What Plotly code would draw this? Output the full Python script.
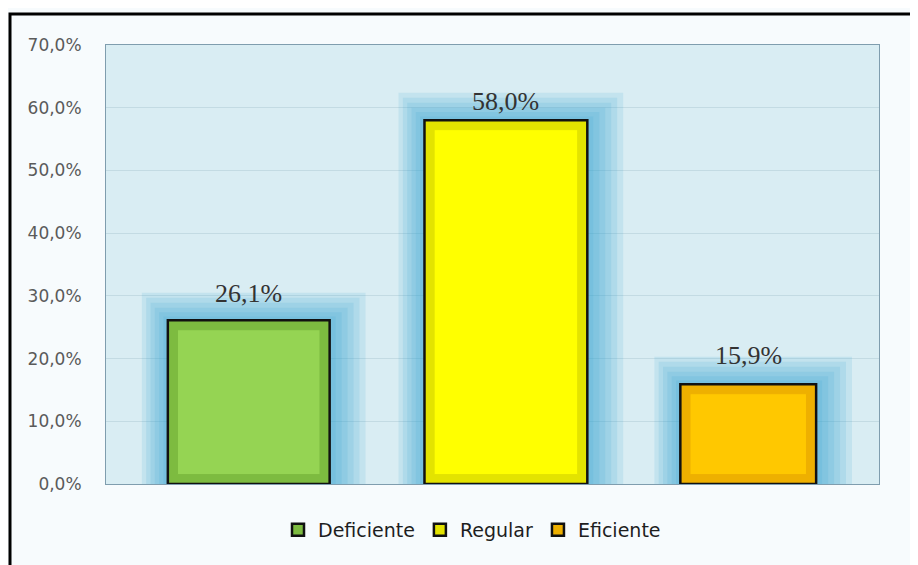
import plotly.graph_objects as go

categories = ["Deficiente", "Regular", "Eficiente"]
values = [26.1, 58.0, 15.9]
colors = ["#95d453", "#ffff00", "#ffc800"]
bevel_colors = ["#7dbb40", "#e3e300", "#eeb000"]
tick_vals = [0, 10, 20, 30, 40, 50, 60, 70]
tick_text = ["0,0%", "10,0%", "20,0%", "30,0%", "40,0%", "50,0%", "60,0%", "70,0%"]

# bar geometry (style, in category units)
bar_widths = [0.628, 0.632, 0.527]
bar_offsets = [-0.26, -0.264, -0.271]
label_shifts = [10, 2, 12]

fig = go.Figure()

# soft blue glow behind the bars (several translucent layers)
glow_layers = [(0.24, 4.4), (0.20, 3.6), (0.16, 2.8), (0.12, 2.0), (0.08, 1.3), (0.04, 0.6)]
for extra, dy in glow_layers:
    fig.add_trace(go.Bar(
        x=categories, y=[v + dy for v in values],
        width=[w + extra for w in bar_widths],
        offset=[o - extra * 0.42 for o in bar_offsets],
        marker=dict(color="rgba(45,160,205,0.13)", line=dict(width=0)),
        showlegend=False, hoverinfo="skip"))

# main bars (bevel frame)
for cat, val, col, bev, w, o in zip(categories, values, colors, bevel_colors, bar_widths, bar_offsets):
    fig.add_trace(go.Bar(
        x=[cat], y=[val], name=cat, width=[w], offset=[o],
        marker=dict(color=bev, line=dict(color="#111111", width=2.5)),
        cliponaxis=False))

# inner face of the bars
for cat, val, col, bev, w, o in zip(categories, values, colors, bevel_colors, bar_widths, bar_offsets):
    fig.add_trace(go.Bar(
        x=[cat], y=[val - 3.0], base=[1.5], width=[w - 0.075], offset=[o + 0.0375],
        marker=dict(color=col, line=dict(color=bev, width=1)),
        showlegend=False, hoverinfo="skip"))

# value labels
annotations = []
for i, (cat, val) in enumerate(zip(categories, values)):
    annotations.append(dict(
        x=cat, y=val, xref="x", yref="y", xshift=(bar_offsets[i] + bar_widths[i] / 2) * 258,
        text=f"{val:.1f}%".replace(".", ","), showarrow=False,
        yanchor="bottom", yshift=label_shifts[i],
        font=dict(family="Liberation Serif, serif", size=26, color="#333333")))

W, H = 910, 557
L, R, T, B = 98, 39, 37, 81
pw, ph = W - L - R, H - T - B

fig.update_layout(
    width=W, height=H,
    barmode="overlay",
    separators=",.",
    paper_bgcolor="#f7fbfd",
    plot_bgcolor="#d9edf3",
    margin=dict(l=L, r=R, t=T, b=B),
    font=dict(family="DejaVu Sans, Verdana, sans-serif", color="#595959", size=17),
    showlegend=True,
    legend=dict(orientation="h", x=(472 - 8 - L) / pw, xanchor="center",
                y=-46 / ph, yanchor="middle",
                font=dict(size=19, color="#1e1e1e"), bgcolor="rgba(0,0,0,0)",
                traceorder="normal", itemwidth=30),
    xaxis=dict(showticklabels=False, showgrid=False, zeroline=False,
               showline=True, linecolor="#7f9dae", linewidth=1, mirror=True,
               categoryorder="array", categoryarray=categories),
    yaxis=dict(range=[0, 70], tickvals=tick_vals, ticktext=tick_text,
               showgrid=True, gridcolor="#c3dbe3", gridwidth=1, zeroline=False,
               showline=True, linecolor="#7f9dae", linewidth=1, mirror=True,
               ticks="", ticklabelstandoff=20,
               tickfont=dict(size=17, color="#5a5a5a")),
    annotations=annotations,
    shapes=[dict(type="rect", xref="paper", yref="paper",
                 x0=(2 - L) / pw, x1=(930 - L) / pw,
                 y0=-(B + 20) / ph, y1=1 + (T - 6) / ph,
                 line=dict(color="#000000", width=3), fillcolor="rgba(0,0,0,0)",
                 layer="above")],
)

fig.write_html("out.html")
